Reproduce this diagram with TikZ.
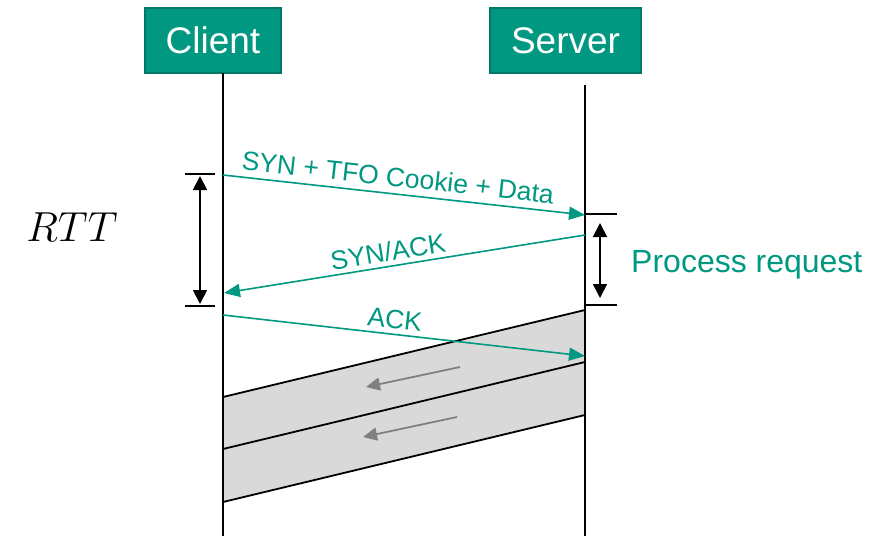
\RequirePackage{fix-cm}
\documentclass[tikz,border=0pt]{standalone}
\usepackage{fontspec}
\setmainfont{Liberation Sans}
\usetikzlibrary{arrows.meta}
\definecolor{tealc}{RGB}{0,152,128}
\definecolor{tealdark}{RGB}{0,120,100}
\definecolor{bandgray}{RGB}{217,217,217}
\definecolor{arrgray}{RGB}{128,128,128}
\tikzset{
  hostbox/.style={fill=tealc, draw=tealdark, line width=1.5pt, text=white,
    minimum height=65pt, inner sep=0pt, font=\fontsize{37}{42}\selectfont},
  lifeline/.style={line width=1.8pt, black},
  msg/.style={line width=1.6pt, tealc, -{Triangle[length=16pt,width=13pt]}},
  msglabel/.style={text=tealc, font=\fontsize{26.5}{30}\selectfont, inner sep=0pt},
  tick/.style={line width=1.8pt, black},
  span/.style={line width=1.8pt, black, {Triangle[length=14pt,width=14pt]}-{Triangle[length=14pt,width=14pt]}},
  flow/.style={line width=1.8pt, arrgray, -{Triangle[length=14pt,width=13pt]}}
}
\begin{document}
\begin{tikzpicture}[x=1pt,y=-1pt]
\useasboundingbox (0,0) rectangle (885,536);

% hosts
\node[hostbox, minimum width=136pt] (client) at (213,40.5) {Client};
\node[hostbox, minimum width=151pt] (server) at (565.5,40.5) {Server};

% lifeline anchors
\coordinate (cTop) at (223,73);
\coordinate (cBot) at (223,536);
\coordinate (sTop) at (585,85);
\coordinate (sBot) at (585,536);

% data bands (drawn under the lifelines)
\coordinate (b1) at (223,397);
\coordinate (b2) at (223,449);
\coordinate (b3) at (223,502);
\coordinate (r1) at (585,310);
\coordinate (r2) at (585,362);
\coordinate (r3) at (585,415);
\fill[bandgray] (b1) -- (r1) -- (r3) -- (b3) -- cycle;
\draw[line width=1.8pt] (b1) -- (r1);
\draw[line width=1.8pt] (b2) -- (r2);
\draw[line width=1.8pt] (b3) -- (r3);

% flow arrows inside the bands
\coordinate (f1s) at (460,367);
\coordinate (f1e) at (366,387);
\coordinate (f2s) at (457,417);
\coordinate (f2e) at (363,437);
\draw[flow] (f1s) -- (f1e);
\draw[flow] (f2s) -- (f2e);

% lifelines
\draw[lifeline] (cTop) -- (cBot);
\draw[lifeline] (sTop) -- (sBot);

% messages
\coordinate (m1s) at (223,175);
\coordinate (m1e) at (585,215);
\coordinate (m2s) at (585,235);
\coordinate (m2e) at (224,293);
\coordinate (m3s) at (223,315);
\coordinate (m3e) at (585,356);
\draw[msg] (m1s) -- (m1e);
\draw[msg] (m2s) -- (m2e);
\draw[msg] (m3s) -- (m3e);
\node[msglabel, rotate=-6.3] (l1) at (398,177) {SYN + TFO Cookie + Data};
\node[msglabel, rotate=9.1] (l2) at (388,252) {SYN/ACK};
\node[msglabel, rotate=-6.4] (l3) at (395,319) {ACK};

% round trip time
\coordinate (rt1) at (185,174);
\coordinate (rt2) at (215,174);
\coordinate (rb1) at (185,306);
\coordinate (rb2) at (215,306);
\draw[tick] (rt1) -- (rt2);
\draw[tick] (rb1) -- (rb2);
\coordinate (ra) at (200,176);
\coordinate (rb) at (200,304);
\draw[span] (ra) -- (rb);
\node[inner sep=0pt, font=\fontsize{42}{46}\selectfont] (rtt) at (72,227) {$RTT$};

% processing time
\coordinate (pt1) at (585,214);
\coordinate (pt2) at (617,214);
\coordinate (pb1) at (585,305);
\coordinate (pb2) at (617,305);
\draw[tick] (pt1) -- (pt2);
\draw[tick] (pb1) -- (pb2);
\coordinate (pa) at (600,223);
\coordinate (pb) at (600,298);
\draw[span] (pa) -- (pb);
\node[anchor=west, inner sep=0pt, text=tealc, font=\fontsize{32}{36}\selectfont] (proc) at (631,265) {Process request};
\end{tikzpicture}
\end{document}
